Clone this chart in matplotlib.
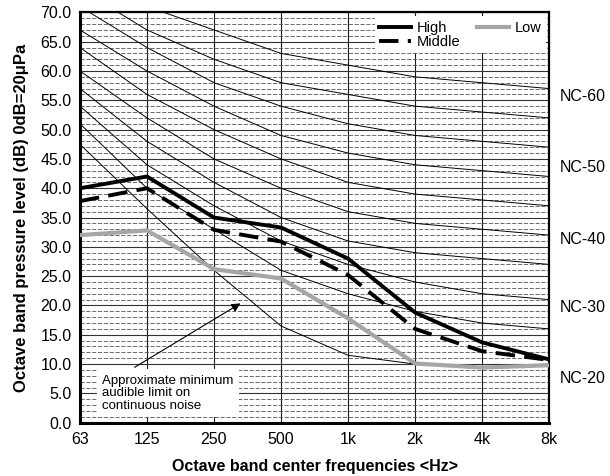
import matplotlib
matplotlib.use("Agg")
import matplotlib.pyplot as plt
from matplotlib.lines import Line2D
import numpy as np

plt.rcParams['font.family'] = ['Liberation Sans', 'DejaVu Sans']

# octave bands
bands = ['63', '125', '250', '500', '1k', '2k', '4k', '8k']

# NC reference curves (dB)
nc_20 = [51, 40, 33, 26, 22, 19, 17, 16]
nc_25 = [54, 44, 37, 31, 27, 24, 22, 21]
nc_30 = [57, 48, 41, 35, 31, 29, 28, 27]
nc_35 = [60, 52, 45, 40, 36, 34, 33, 32]
nc_40 = [64, 56, 50, 45, 41, 39, 38, 37]
nc_45 = [67, 60, 54, 49, 46, 44, 43, 42]
nc_50 = [71, 64, 58, 54, 51, 49, 48, 47]
nc_55 = [74, 67, 62, 58, 56, 54, 53, 52]
nc_60 = [77, 71, 67, 63, 61, 59, 58, 57]
nc_curves = [nc_20, nc_25, nc_30, nc_35, nc_40, nc_45, nc_50, nc_55, nc_60]

# approximate minimum audible limit
audible = [47.5, 36.5, 26, 16.5, 11.5, 10, 9.5, 10]

# measured spectra
high = [40, 42, 35, 33.3, 28, 18.8, 13.7, 10.8]
middle = [37.8, 40, 32.9, 30.9, 25.2, 16, 12.2, 10.7]
low = [32, 32.8, 26.2, 24.6, 17.8, 10.1, 9.4, 9.8]

nc_labels = ['NC-60', 'NC-50', 'NC-40', 'NC-30', 'NC-20']
nc_label_y = [55.6, 43.5, 31.2, 19.7, 7.6]

x = np.arange(len(bands))

fig = plt.figure(figsize=(6.1, 4.76), dpi=100)
ax = fig.add_axes([0.1311, 0.112, 0.769, 0.862])

# grid
ax.set_yticks(np.arange(0, 71, 5))
ax.set_yticks(np.arange(0, 71, 1), minor=True)
ax.set_yticklabels(['%.1f' % v for v in np.arange(0, 71, 5)])
ax.set_xticks(x)
ax.set_xticklabels(bands)
ax.grid(which='minor', axis='y', color='#555555', lw=0.6, ls=(0, (5, 2)), zorder=0)
ax.grid(which='major', axis='y', color='#333333', lw=0.8, zorder=0)
ax.grid(which='major', axis='x', color='#1a1a1a', lw=0.8, zorder=0)
ax.tick_params(which='both', length=0, labelsize=11.5)
ax.tick_params(axis='y', pad=6)
ax.tick_params(axis='x', pad=7)

for c in nc_curves:
    ax.plot(x, c, color='black', lw=0.7, zorder=2)
ax.plot(x, audible, color='black', lw=0.7, zorder=2)

ax.plot(x, low, color='#a6a6a6', lw=3, zorder=3, solid_joinstyle='round')
ax.plot(x, middle, color='black', lw=2.8, ls=(0, (5, 2.4)), zorder=4)
ax.plot(x, high, color='black', lw=2.8, zorder=5, solid_joinstyle='round')

ax.set_xlim(0, 7)
ax.set_ylim(0, 70)

for s in ['left', 'bottom']:
    ax.spines[s].set_linewidth(2.2)
for s in ['top', 'right']:
    ax.spines[s].set_linewidth(1.6)

ax.set_xlabel('Octave band center frequencies <Hz>', fontsize=11.5, fontweight='bold', labelpad=8)
ax.set_ylabel('Octave band pressure level (dB) 0dB=20\u03bcPa', fontsize=12, fontweight='bold', labelpad=8)

for lab, yy in zip(nc_labels, nc_label_y):
    ax.text(1.0235, yy, lab, transform=ax.get_yaxis_transform(), fontsize=11.5, va='center', ha='left')

handles = [Line2D([], [], color='black', lw=2.8),
           Line2D([], [], color='black', lw=2.8, ls=(0, (5, 2.4))),
           Line2D([], [], color='#a6a6a6', lw=3)]
leg = ax.legend(handles, ['High', 'Middle', 'Low'], ncol=2, loc='upper right',
                bbox_to_anchor=(0.993, 0.99), borderaxespad=0, fontsize=10.5,
                handlelength=2.2, handletextpad=0.4, columnspacing=1.1,
                labelspacing=0.0, frameon=True, fancybox=False, borderpad=0.3)
leg.get_frame().set_facecolor('white')
leg.get_frame().set_edgecolor('none')
leg.get_frame().set_alpha(1)
leg.set_zorder(10)

ax.annotate('', xy=(2.43, 20.6), xytext=(0.78, 9.2),
            arrowprops=dict(arrowstyle='-|>', color='black', lw=0.8, mutation_scale=13),
            zorder=6)
ax.text(0.33, 5.0, 'Approximate minimum\naudible limit on\ncontinuous noise',
        fontsize=9.5, va='center', ha='left', linespacing=1.05, zorder=7,
        bbox=dict(facecolor='white', edgecolor='none', pad=4))

fig.savefig('out.png', dpi=100)
